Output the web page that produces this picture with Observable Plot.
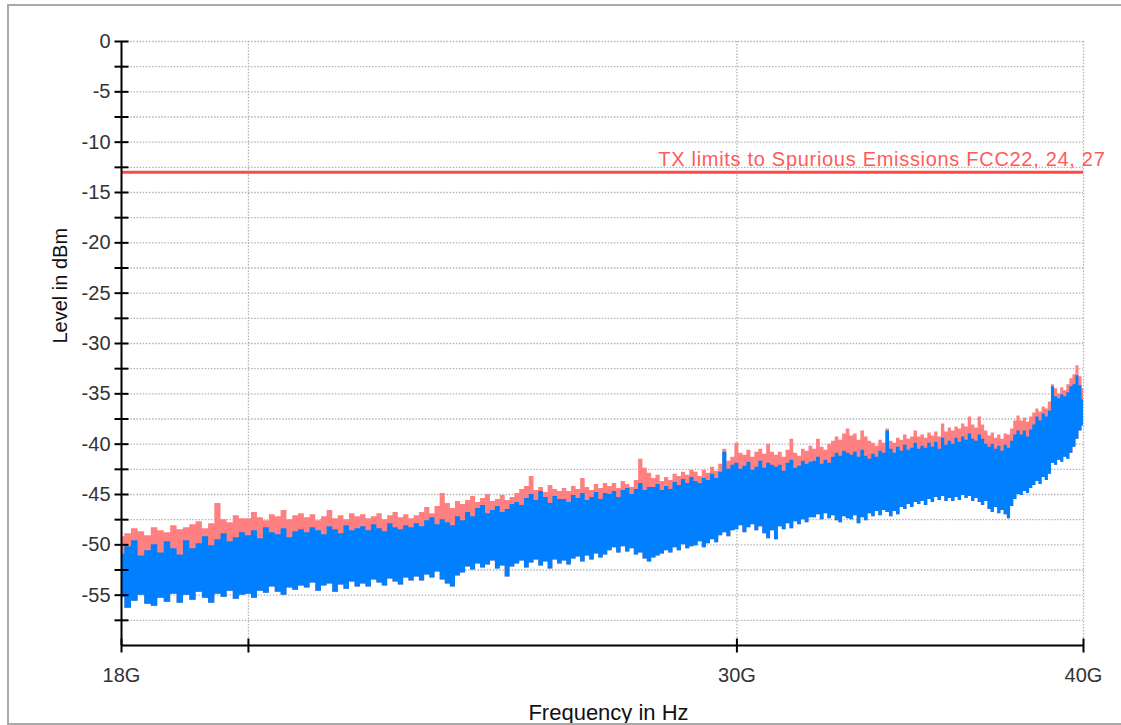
<!DOCTYPE html>
<html>
<head>
<meta charset="utf-8">
<script src="https://cdn.jsdelivr.net/npm/d3@7"></script>
<script src="https://cdn.jsdelivr.net/npm/@observablehq/plot@0.6"></script>
<style>
  html, body { margin: 0; padding: 0; background: #fff; }
  #wrap { position: relative; width: 1121px; height: 725px; overflow: hidden; background: #fff; }
  #wrap svg { position: absolute; left: 0; top: 0; }
  #border { position: absolute; left: 7px; top: 4px; width: 1200px; height: 721px; box-sizing: border-box;
    border-top: 2px solid #a9a9a9; border-left: 2px solid #a9a9a9; border-bottom: 2px solid #a9a9a9; pointer-events: none; }
</style>
</head>
<body>
<div id="wrap"><div id="border"></div></div>
<script>
// Frequency in GHz
const freq = [
18.0,18.1,18.2,18.3,18.4,18.5,18.6,18.7,18.8,18.9,
19.0,19.1,19.2,19.3,19.4,19.5,19.6,19.7,19.8,19.9,
20.0,20.1,20.2,20.3,20.4,20.5,20.6,20.7,20.8,20.9,
21.0,21.1,21.2,21.3,21.4,21.5,21.6,21.7,21.8,21.9,
22.0,22.1,22.2,22.3,22.4,22.5,22.6,22.7,22.8,22.9,
23.0,23.1,23.2,23.3,23.4,23.5,23.6,23.7,23.8,23.9,
24.0,24.1,24.2,24.3,24.4,24.5,24.6,24.7,24.8,24.9,
25.0,25.1,25.2,25.3,25.4,25.5,25.6,25.7,25.8,25.9,
26.0,26.1,26.2,26.3,26.4,26.5,26.6,26.7,26.8,26.9,
27.0,27.1,27.2,27.3,27.4,27.5,27.6,27.7,27.8,27.9,
28.0,28.1,28.2,28.3,28.4,28.5,28.6,28.7,28.8,28.9,
29.0,29.1,29.2,29.3,29.4,29.5,29.6,29.7,29.8,29.9,
30.0,30.1,30.2,30.3,30.4,30.5,30.6,30.7,30.8,30.9,
31.0,31.1,31.2,31.3,31.4,31.5,31.6,31.7,31.8,31.9,
32.0,32.1,32.2,32.3,32.4,32.5,32.6,32.7,32.8,32.9,
33.0,33.1,33.2,33.3,33.4,33.5,33.6,33.7,33.8,33.9,
34.0,34.1,34.2,34.3,34.4,34.5,34.6,34.7,34.8,34.9,
35.0,35.1,35.2,35.3,35.4,35.5,35.6,35.7,35.8,35.9,
36.0,36.1,36.2,36.3,36.4,36.5,36.6,36.7,36.8,36.9,
37.0,37.1,37.2,37.3,37.4,37.5,37.6,37.7,37.8,37.9,
38.0,38.1,38.2,38.3,38.4,38.5,38.6,38.7,38.8,38.9,
39.0,39.1,39.2,39.3,39.4,39.5,39.6,39.7,39.8,39.9,
40.0];

// Red trace (max peak) upper envelope, dBm
const redTop = [
-49.2,-48.9,-48.4,-48.7,-49.1,-48.3,-48.6,-48.8,-48.1,-48.5,
-48.3,-48.0,-47.7,-48.4,-47.9,-45.9,-47.5,-47.8,-47.1,-47.4,
-47.4,-46.8,-47.3,-47.6,-47.0,-47.2,-46.6,-47.5,-47.1,-46.9,
-47.3,-47.0,-47.6,-47.2,-46.6,-47.4,-47.1,-47.5,-46.9,-47.2,
-47.0,-47.4,-47.2,-46.9,-47.5,-47.1,-46.8,-47.3,-47.0,-47.4,
-47.1,-46.8,-46.3,-46.9,-46.2,-44.9,-45.9,-46.4,-45.7,-46.0,
-45.6,-45.2,-45.8,-45.4,-45.0,-45.7,-45.5,-45.1,-45.6,-45.3,
-44.9,-44.5,-44.2,-43.2,-44.6,-44.3,-44.8,-44.1,-44.5,-44.7,
-44.4,-44.7,-44.2,-44.5,-43.4,-44.3,-44.6,-44.0,-44.4,-43.9,
-44.2,-43.9,-44.4,-43.7,-44.0,-44.3,-43.6,-41.5,-42.4,-42.9,
-43.4,-43.1,-43.7,-43.3,-43.6,-43.0,-43.2,-42.8,-43.1,-42.6,
-42.8,-43.2,-42.6,-42.9,-42.3,-42.7,-42.0,-40.5,-41.7,-41.3,
-39.9,-40.9,-41.1,-40.6,-41.3,-40.8,-40.5,-41.0,-40.0,-40.8,
-41.1,-40.8,-41.3,-40.6,-39.5,-40.9,-41.2,-40.5,-40.7,-40.2,
-40.5,-39.5,-40.3,-40.6,-40.0,-39.7,-39.3,-39.6,-39.0,-38.5,
-39.2,-39.0,-39.6,-38.7,-39.3,-39.7,-39.9,-40.2,-39.6,-39.9,
-38.5,-39.7,-39.9,-39.4,-39.6,-39.1,-39.5,-39.3,-38.7,-39.3,
-39.1,-39.4,-38.9,-39.2,-38.8,-39.3,-38.0,-38.8,-38.4,-38.7,
-38.3,-38.5,-38.0,-38.3,-37.3,-38.1,-38.4,-37.3,-38.1,-38.7,
-39.2,-38.9,-39.4,-39.1,-39.5,-39.0,-39.1,-38.5,-37.7,-37.2,
-37.7,-37.4,-37.8,-37.3,-36.9,-36.5,-36.8,-36.3,-36.5,-35.8,
-34.1,-34.5,-35.0,-34.4,-34.7,-34.1,-33.5,-33.1,-32.2,-33.3,
-34.5];

// Blue trace upper envelope, dBm
const blueTop = [
-50.9,-50.2,-49.6,-51.1,-50.6,-50.0,-50.8,-49.7,-50.4,-51.0,
-49.6,-50.4,-49.9,-49.2,-50.1,-49.5,-48.9,-49.7,-49.3,-48.8,
-49.1,-48.6,-49.4,-48.3,-48.8,-49.0,-48.4,-49.3,-48.7,-48.5,
-48.8,-48.3,-48.6,-49.0,-48.2,-48.5,-48.9,-48.1,-48.6,-48.4,
-48.2,-48.6,-48.0,-48.4,-48.7,-47.9,-48.3,-48.5,-48.1,-48.3,
-47.9,-48.2,-47.6,-47.3,-48.0,-47.5,-47.8,-48.1,-47.2,-47.6,
-46.8,-47.2,-46.4,-46.1,-46.9,-46.6,-46.2,-46.8,-46.5,-46.0,
-45.8,-46.1,-45.4,-45.0,-45.6,-44.7,-45.3,-45.9,-45.2,-45.5,
-45.5,-45.8,-45.1,-45.4,-44.9,-45.6,-45.3,-44.8,-45.5,-44.9,
-45.0,-44.7,-45.3,-44.6,-44.4,-45.0,-44.5,-43.9,-44.6,-44.3,
-44.3,-44.0,-44.6,-44.2,-44.5,-43.8,-44.1,-43.5,-43.9,-43.3,
-43.7,-43.9,-43.4,-43.6,-43.0,-43.4,-42.8,-40.8,-42.5,-42.1,
-41.9,-42.5,-42.2,-41.8,-42.6,-42.3,-41.7,-42.4,-41.9,-42.1,
-42.3,-42.1,-42.7,-41.9,-41.6,-42.4,-42.2,-41.7,-42.0,-41.8,
-41.7,-41.3,-42.0,-41.6,-41.9,-41.3,-40.9,-41.2,-40.7,-40.9,
-41.1,-40.8,-41.3,-40.6,-41.2,-41.5,-41.0,-41.3,-40.7,-40.9,
-38.7,-40.5,-40.9,-40.3,-40.7,-40.1,-40.6,-40.4,-39.9,-40.5,
-40.2,-40.4,-39.9,-40.3,-39.8,-40.5,-39.4,-40.1,-39.7,-40.0,
-39.4,-39.8,-39.3,-39.6,-39.0,-39.5,-39.7,-39.1,-39.5,-40.0,
-40.3,-40.0,-40.5,-40.2,-40.7,-40.1,-40.4,-39.7,-39.1,-38.7,
-39.1,-38.7,-39.3,-38.6,-38.1,-37.3,-37.7,-37.0,-37.3,-36.7,
-34.3,-35.3,-35.5,-35.1,-35.3,-34.9,-34.3,-34.1,-33.2,-34.2,
-35.6];

// Lower envelope of the traces, dBm
const blueBottom = [
-55.2,-56.3,-55.6,-55.0,-55.9,-56.1,-55.3,-55.7,-54.9,-55.8,
-55.0,-55.5,-54.7,-55.3,-55.8,-54.9,-55.2,-54.6,-55.4,-55.0,
-54.9,-55.3,-54.6,-54.8,-54.2,-54.7,-55.0,-54.3,-54.5,-54.1,
-54.3,-53.8,-54.6,-54.1,-53.9,-54.7,-54.0,-54.4,-53.7,-54.2,
-53.9,-54.2,-53.5,-53.8,-54.1,-53.4,-53.7,-54.0,-53.3,-53.6,
-53.2,-53.6,-53.0,-53.3,-52.7,-53.5,-53.9,-54.2,-53.1,-52.8,
-52.2,-52.5,-51.9,-52.3,-52.0,-51.6,-52.4,-52.1,-53.2,-52.2,
-51.9,-51.6,-52.3,-51.8,-51.5,-52.1,-51.7,-52.4,-51.5,-51.9,
-51.6,-52.0,-51.4,-51.2,-51.7,-51.1,-51.5,-50.9,-51.3,-51.0,
-50.6,-50.3,-50.8,-50.2,-50.7,-50.4,-51.0,-50.8,-51.4,-51.7,
-51.3,-51.1,-50.9,-50.6,-50.8,-50.3,-50.6,-50.0,-50.4,-50.2,
-50.1,-49.7,-50.3,-49.9,-49.5,-49.8,-49.1,-48.8,-49.2,-48.6,
-48.5,-48.1,-48.8,-48.3,-48.0,-48.6,-48.2,-48.9,-49.4,-48.6,
-49.5,-48.2,-48.5,-47.9,-48.4,-47.7,-48.0,-47.5,-47.8,-47.3,
-47.3,-47.0,-47.5,-46.9,-47.4,-47.1,-47.6,-47.8,-47.2,-47.4,
-47.5,-47.1,-47.9,-47.3,-47.6,-46.9,-47.2,-46.7,-47.1,-46.6,
-46.8,-47.2,-46.7,-47.0,-46.3,-46.5,-46.0,-46.3,-45.8,-46.0,
-45.7,-46.1,-45.5,-45.8,-45.3,-45.6,-45.2,-45.7,-45.4,-45.7,
-45.3,-45.6,-45.1,-45.4,-45.2,-45.7,-45.4,-45.8,-46.1,-45.7,
-46.5,-46.8,-46.3,-46.9,-46.6,-47.0,-47.4,-46.2,-45.5,-45.0,
-45.1,-44.7,-44.9,-44.4,-44.1,-43.7,-44.0,-43.3,-43.6,-43.0,
-41.9,-42.1,-41.6,-41.8,-41.3,-41.5,-40.9,-40.3,-39.5,-38.7,
-38.2];

const limitLevel = -13;
const limitLabel = "TX limits to Spurious Emissions FCC22, 24, 27";

const yGrid = [0,-2.5,-5,-7.5,-10,-12.5,-15,-17.5,-20,-22.5,-25,-27.5,-30,-32.5,-35,-37.5,-40,-42.5,-45,-47.5,-50,-52.5,-55,-57.5];
const yTickLabels = [0,-5,-10,-15,-20,-25,-30,-35,-40,-45,-50,-55];
const xGrid = [20, 30, 40];
const xTicks = [18, 20, 30, 40];
const xTickLabelValues = [18, 30, 40];
const xTickLabelText = ["18G", "30G", "40G"];

const rows = freq.map((f, i) => ({f, rt: redTop[i], bt: blueTop[i], bb: blueBottom[i]}));

const hTick = {draw(ctx) { ctx.moveTo(-7, 0); ctx.lineTo(7, 0); }};
const vTick = {draw(ctx) { ctx.moveTo(0, -7); ctx.lineTo(0, 7); }};

const grid = {stroke: "#b3b3b3", strokeWidth: 1.3, strokeDasharray: "1.5,1.6"};

const chart = Plot.plot({
  width: 1121,
  height: 725,
  marginLeft: 121,
  marginRight: 38,
  marginTop: 41,
  marginBottom: 80,
  style: {fontFamily: "'Liberation Sans', Arial, sans-serif", fontSize: "20px", background: "transparent"},
  x: {type: "log", domain: [18, 40], axis: null},
  y: {domain: [-60, 0], axis: null},
  marks: [
    Plot.ruleY(yGrid, grid),
    Plot.ruleX(xGrid, grid),
    Plot.areaY(rows, {x: "f", y1: "bb", y2: "rt", fill: "#ff8080", curve: "step"}),
    Plot.areaY(rows, {x: "f", y1: "bb", y2: "bt", fill: "#0080ff", curve: "step"}),
    Plot.ruleY([limitLevel], {stroke: "#ff4848", strokeWidth: 3}),
    Plot.text([limitLabel], {y: () => limitLevel, frameAnchor: "right", text: d => d, textAnchor: "end",
      dx: 22, dy: -6, lineAnchor: "bottom", fill: "#ff5a5a", fontSize: 20}),
    Plot.ruleX([18], {stroke: "#000", strokeWidth: 2}),
    Plot.ruleY([-60], {stroke: "#000", strokeWidth: 2}),
    Plot.dot(yGrid, {y: d => d, frameAnchor: "left", symbol: hTick, stroke: "#000", strokeWidth: 2, fill: "none"}),
    Plot.dot(xTicks, {x: d => d, frameAnchor: "bottom", symbol: vTick, stroke: "#000", strokeWidth: 2, fill: "none"}),
    Plot.text(yTickLabels, {y: d => d, frameAnchor: "left", text: d => String(d), textAnchor: "end", dx: -11, fill: "#333"}),
    Plot.text(xTickLabelValues, {x: d => d, frameAnchor: "bottom", text: (d, i) => xTickLabelText[i], lineAnchor: "top", dy: 22, fill: "#333"}),
    Plot.text(["Level in dBm"], {frameAnchor: "left", text: d => d, rotate: -90, dx: -55, lineAnchor: "bottom", fill: "#111", fontSize: 20}),
    Plot.text(["Frequency in Hz"], {frameAnchor: "bottom", text: d => d, dx: 6, dy: 74, lineAnchor: "bottom", fill: "#111", fontSize: 22})
  ]
});

d3.select(chart).selectAll("text").filter(function() { return this.textContent === limitLabel; })
  .attr("letter-spacing", "0.7px");

document.getElementById("wrap").insertBefore(chart, document.getElementById("border"));
</script>
</body>
</html>
